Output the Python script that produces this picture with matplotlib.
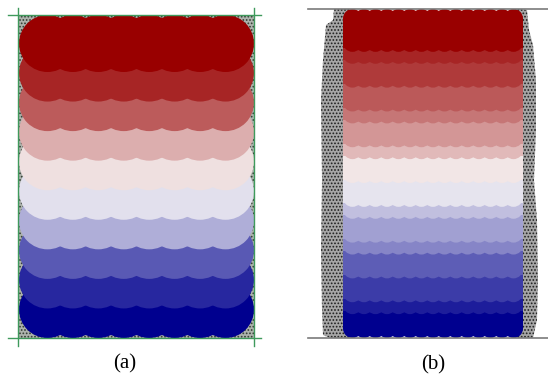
import matplotlib
matplotlib.use("Agg")
import matplotlib.pyplot as plt
import numpy as np
from matplotlib.colors import LinearSegmentedColormap
from matplotlib.patches import Circle, Rectangle, Polygon

# colour level of each particle layer (0 = top / dark red, 1 = bottom / dark blue)
levels_a = [0.0, 0.075, 0.185, 0.355, 0.455, 0.545, 0.645, 0.82, 0.92, 1.0]
rows_a = [1] * 10          # one row of big particles per layer
cols_a = 8

levels_b = [0.0, 0.075, 0.118, 0.18, 0.24, 0.306, 0.376, 0.467,
            0.537, 0.61, 0.675, 0.73, 0.81, 0.875, 0.94, 1.0]
rows_b = [3, 1, 2, 2, 1, 2, 1, 2, 2, 1, 2, 1, 2, 2, 1, 2]   # rows of small particles per layer
cols_b = 15

# outline of the grey wall material in (b) (y, x)
wall_left_y = [9, 20, 25, 60, 100, 180, 250, 310, 335, 338]
wall_left_x = [334, 333, 326, 323, 321, 322, 321, 322, 323, 330]
wall_right_y = [9, 10, 30, 45, 80, 130, 180, 220, 280, 320, 338]
wall_right_x = [520, 527, 529, 533, 536, 536, 534, 537, 538, 537, 533]

cmap = LinearSegmentedColormap.from_list("layers", ["#990000", "#f8f6f6", "#00008f"])

plt.rcParams["hatch.linewidth"] = 0.8

fig = plt.figure(figsize=(5.48, 3.85), dpi=100)
ax_a = fig.add_axes([0, 0, 0.5, 1])
ax_b = fig.add_axes([0.5, 0, 0.5, 1])
ax_a.set_xlim(0, 274)
ax_a.set_ylim(385, 0)
ax_b.set_xlim(274, 548)
ax_b.set_ylim(385, 0)
for ax in (ax_a, ax_b):
    ax.set_aspect("equal")
    ax.axis("off")


def pack(ax, x0, x1, y0, y1, d, ncols, layer_rows, layer_levels, side_fill=False):
    nrows = sum(layer_rows)
    xs = np.linspace(x0 + d / 2, x1 - d / 2, ncols)
    ys = np.linspace(y0 + d / 2, y1 - d / 2, nrows)
    lev = np.repeat(layer_levels, layer_rows)
    # lower rows first so upper rows sit on top
    for j in range(nrows - 1, -1, -1):
        z = 3 + (nrows - j) * 0.01
        for x in xs:
            ax.add_patch(Circle((x, ys[j]), d / 2, facecolor=cmap(lev[j]),
                                edgecolor="none", zorder=z))
        if side_fill:
            top = ys[j] if j == 0 else ys[j] - d * 0.32
            bot = ys[j] if j == nrows - 1 else ys[j] + d * 0.32
            ax.add_patch(Rectangle((x0, top), x1 - x0, bot - top,
                                   facecolor=cmap(lev[j]), edgecolor="none", zorder=z))


# ---- (a)
ax_a.add_patch(Rectangle((18, 15), 236, 323, facecolor="#adb3ad", edgecolor="#303a30",
                         hatch=".....", linewidth=0, zorder=1))
pack(ax_a, 19, 254, 15, 338, 57, cols_a, rows_a, levels_a)
green = "#3f9a5c"
for yy in (15, 338):
    ax_a.plot([8, 261], [yy, yy], color=green, lw=1.0, zorder=5)
for xx in (18, 254):
    ax_a.plot([xx, xx], [8, 346], color=green, lw=1.0, zorder=5)
ax_a.text(125, 364, "(a)", ha="center", va="center", fontsize=15,
          family=["Liberation Serif", "DejaVu Serif"])

# ---- (b)
lx = np.r_[wall_left_x, 350, 350]
ly = np.r_[wall_left_y, 338, 9]
rx = np.r_[wall_right_x, 515, 515]
ry = np.r_[wall_right_y, 338, 9]
for px, py in ((lx, ly), (rx, ry)):
    ax_b.add_patch(Polygon(np.c_[px, py], closed=True, facecolor="#a6a6a6",
                           edgecolor="#1e1e1e", hatch=".....", linewidth=0, zorder=1))
pack(ax_b, 343, 523, 9, 338, 19, cols_b, rows_b, levels_b, side_fill=True)
for yy in (9, 338):
    ax_b.plot([308, 548], [yy, yy], color="#7a7a7a", lw=1.2, zorder=5)
ax_b.text(433, 365, "(b)", ha="center", va="center", fontsize=15,
          family=["Liberation Serif", "DejaVu Serif"])

fig.savefig("out.png", dpi=100)
